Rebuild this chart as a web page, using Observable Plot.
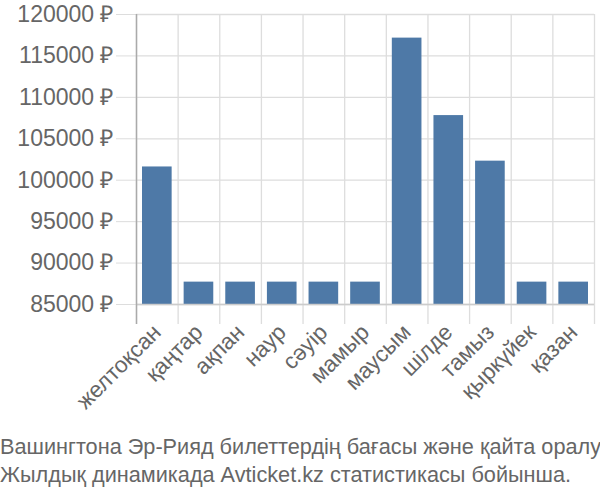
<!DOCTYPE html>
<html>
<head>
<meta charset="utf-8">
<script src="https://cdn.jsdelivr.net/npm/d3@7"></script>
<script src="https://cdn.jsdelivr.net/npm/@observablehq/plot@0.6"></script>
<style>
  html, body { margin: 0; padding: 0; background: #fff; }
  body { width: 600px; font-family: "Liberation Sans", sans-serif; }
  #caption { font-size: 21.7px; line-height: 28px; color: #666; white-space: nowrap; margin-top: 8px; padding-left: 0px; }
</style>
</head>
<body>
<div id="chart"></div>
<div id="caption">Вашингтона Эр-Рияд билеттердің бағасы және қайта оралу<br>Жылдық динамикада Avticket.kz статистикасы бойынша.</div>
<script>
const months = ["желтоқсан", "қаңтар", "ақпан", "наур", "сәуір", "мамыр", "маусым", "шілде", "тамыз", "қыркүйек", "қазан"];
const prices = [101600, 87700, 87700, 87700, 87700, 87700, 117150, 107800, 102300, 87700, 87700];
const yTicks = [85000, 90000, 95000, 100000, 105000, 110000, 115000, 120000];
const yMin = 85000, yMax = 120000;

const data = months.map((m, i) => ({month: m, i, price: prices[i]}));
const bounds = d3.range(months.length + 1);
const centers = months.map((m, i) => i + 0.5);

const chart = Plot.plot({
  width: 600,
  height: 425,
  marginLeft: 136,
  marginRight: 6,
  marginTop: 14,
  marginBottom: 121,
  style: {fontFamily: "'Liberation Sans', sans-serif", fontSize: "22px", color: "#666", background: "#fff"},
  x: {type: "linear", domain: [0, months.length], axis: null, label: null},
  y: {type: "linear", domain: [yMin, yMax], axis: null, label: null},
  marks: [
    Plot.gridY(yTicks, {stroke: "#ddd", strokeOpacity: 1, strokeWidth: 1.3}),
    Plot.gridX(bounds, {stroke: "#ddd", strokeOpacity: 1, strokeWidth: 1.3}),
    Plot.axisY(yTicks, {tickSize: 20, tickPadding: 3, stroke: "#ddd", strokeOpacity: 1, fill: "#666", tickFormat: d => d + " ₽", fontSize: 23, label: null}),
    Plot.axisX(bounds, {tickSize: 20, tickPadding: 0, stroke: "#ddd", strokeOpacity: 1, strokeWidth: 1.3, tickFormat: () => "", label: null}),
    Plot.axisX(centers, {tickSize: 0, tickPadding: 24, tickRotate: -45, fill: "#666", fontSize: 22.5, tickFormat: d => months[Math.floor(d)], label: null}),
    Plot.rectY(data, {x1: "i", x2: d => d.i + 1, y1: () => yMin, y2: "price", fill: "#4e79a7", insetLeft: 6, insetRight: 6}),
    Plot.ruleY([yMin], {stroke: "#ccc", strokeWidth: 1.5}),
    Plot.ruleX([0], {y1: yMax, y2: yMin, stroke: "#aaa", strokeWidth: 1.5, insetBottom: -20})
  ]
});
document.getElementById("chart").appendChild(chart);
</script>
</body>
</html>
